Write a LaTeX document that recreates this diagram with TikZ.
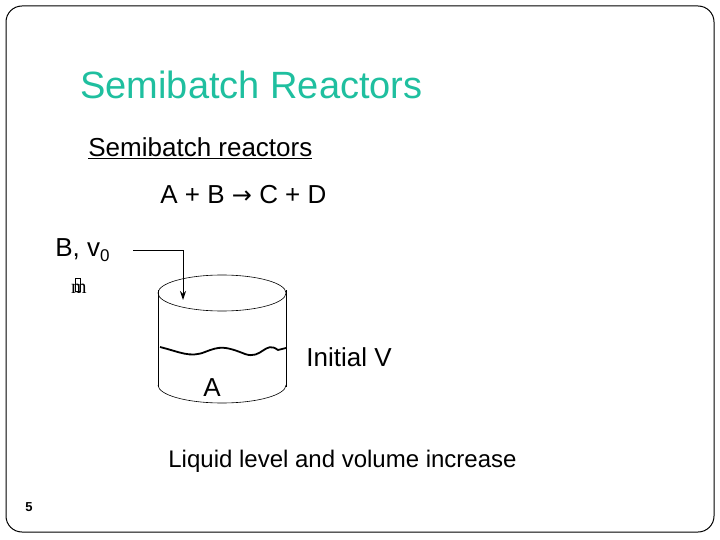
\documentclass[tikz,border=0pt]{standalone}
\usepackage{fontspec}
\setmainfont{Liberation Sans}
\newfontfamily\serifm{Liberation Serif}
\newfontfamily\djfont{DejaVu Sans}
\definecolor{teal1}{HTML}{1FBF9F}
\usetikzlibrary{arrows.meta}
\begin{document}
\begin{tikzpicture}[x=1pt,y=-1pt,line width=0.8pt,
  txt/.style={inner sep=0pt,anchor=west,font=\fontsize{26}{28}\selectfont}]
\useasboundingbox (0,0) rectangle (720,540);
\draw[line width=1pt,rounded corners=16pt] (6,6) rectangle (714,532);
\node[txt,text=teal1,font=\fontsize{38}{40}\selectfont] (title) at (80,85) {Semibatch Reactors};
\node[txt] (sub) at (88,148) {\underline{Semibatch reactors}};
\node[txt] (rxn) at (160,195) {A + B {\djfont\fontsize{24}{26}\selectfont→} C + D};
\node[txt] (b) at (55,250) {B, v\raisebox{-0.35ex}{\fontsize{17}{18}\selectfont 0}};
\node[inner sep=0pt,font=\serifm\fontsize{20}{22}\selectfont] (m) at (79,289) {m};
\draw[line width=0.4pt] (75.5,278) rectangle (80.5,291);
\draw[line width=0.6pt] (158,290) -- (158,387);
\draw[line width=0.6pt] (286,290) -- (286,387);
\draw[line width=0.6pt] (222,293) ellipse (64 and 18);
\draw[line width=0.6pt] (158,385) arc (180:0:64 and 18);
\draw[line width=1.8pt] (160,347) .. controls (180,352) and (190,358) .. (205,352) .. controls (220,346) and (225,346) .. (245,354) .. controls (262,360) and (265,340) .. (278,350) -- (286,348);
\coordinate (p0) at (133,250);
\coordinate (p1) at (183,250);
\coordinate (p2) at (183,300);
\draw[-{Stealth[length=9pt,width=6pt]},line width=1pt] (p0) -- (p1) -- (p2);
\node[txt] (iv) at (306,357) {Initial V};
\node[txt] (a) at (203,388) {A};
\node[txt,font=\fontsize{24}{26}\selectfont] (liq) at (168,461) {Liquid level and volume increase};
\node[txt,font=\bfseries\fontsize{13}{14}\selectfont] (pg) at (25,507) {5};
\end{tikzpicture}
\end{document}
